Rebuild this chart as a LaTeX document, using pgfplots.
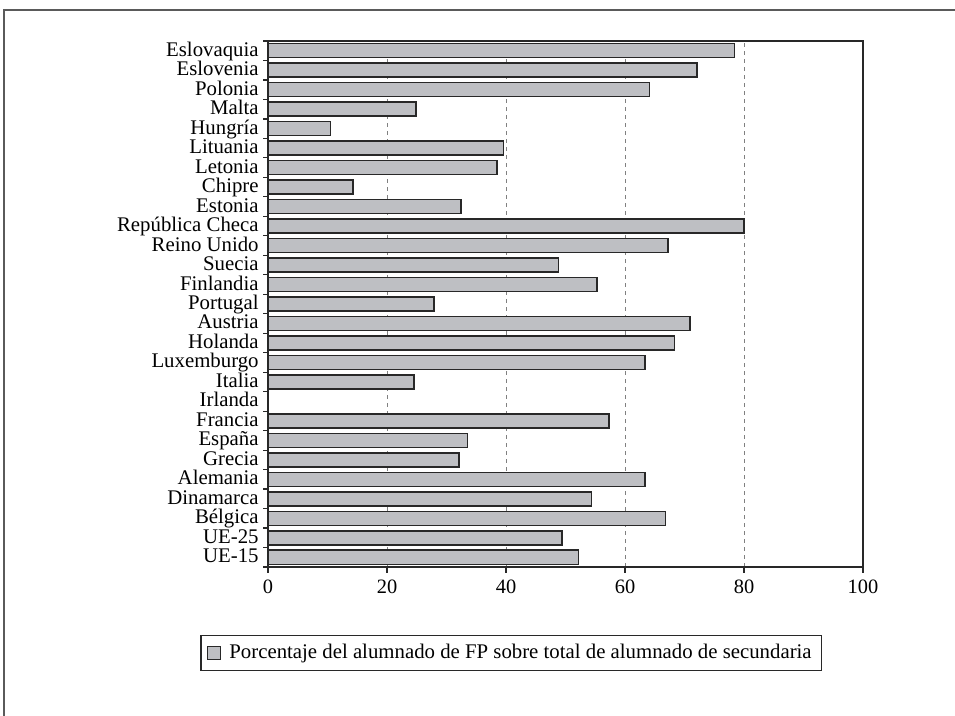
\documentclass[border=0pt]{standalone}
\usepackage{fontspec}
\setmainfont{Liberation Serif}
\usepackage{pgfplots}
\pgfplotsset{compat=1.18}
\definecolor{bargray}{RGB}{190,191,195}
\definecolor{edge}{RGB}{40,40,40}
\definecolor{framegray}{RGB}{90,90,90}
\begin{document}
\begin{tikzpicture}
\path[use as bounding box] (0,0) rectangle (477.5bp,358bp);
\draw[line width=0.8bp, framegray] (2bp,-2bp) -- (2bp,353bp) -- (480bp,353bp);
\begin{axis}[
  at={(134bp,74.5bp)}, anchor=south west,
  scale only axis, width=297.5bp, height=263bp,
  xbar, bar width=0.72, bar shift=0pt,
  xmin=0, xmax=100, ymin=-0.5, ymax=26.5,
  xtick={0,20,40,60,80,100},
  ytick={0,...,26},
  minor ytick={-0.5,0.5,...,26.5},
  yticklabels={UE-15,UE-25,Bélgica,Dinamarca,Alemania,Grecia,España,Francia,Irlanda,Italia,Luxemburgo,Holanda,Austria,Portugal,Finlandia,Suecia,Reino Unido,República Checa,Estonia,Chipre,Letonia,Lituania,Hungría,Malta,Polonia,Eslovenia,Eslovaquia},
  xtick pos=bottom, ytick pos=left,
  tick align=outside,
  major tick length=3bp, minor tick length=2.5bp,
  every major y tick/.style={draw=none},
  every minor y tick/.style={edge, line width=0.6bp},
  every major x tick/.style={edge, line width=0.6bp},
  xmajorgrids,
  grid style={dash pattern=on 2bp off 2bp, line width=0.5bp, gray},
  axis line style={line width=0.75bp, edge},
  /pgf/number format/assume math mode=true,
  xticklabel style={font=\fontsize{10.2bp}{11bp}\selectfont},
  yticklabel style={font=\fontsize{10.4bp}{11bp}\selectfont, inner xsep=1.5bp,
    inner ysep=0pt, text height=7bp, text depth=1.5bp},
  legend style={at={(0.409,-0.1635)}, anchor=center, draw=edge, line width=0.6bp,
    font=\fontsize{10.4bp}{12bp}\selectfont, inner xsep=3bp, inner ysep=2.5bp},
  legend image code/.code={\draw[#1, line width=0.6bp] (0bp,-3.2bp) rectangle (6.5bp,3.2bp); \path (8.5bp,0bp);},
]
\addplot[fill=bargray, draw=edge, line width=0.75bp] coordinates {
  (52.2,0) (49.4,1) (66.8,2) (54.4,3) (63.4,4) (32.1,5) (33.5,6) (57.3,7)
  (24.5,9) (63.4,10) (68.3,11) (70.9,12) (27.9,13) (55.3,14) (48.8,15)
  (67.2,16) (80.0,17) (32.4,18) (14.3,19) (38.5,20) (39.6,21) (10.5,22)
  (24.9,23) (64.1,24) (72.1,25) (78.4,26)
};
\addlegendentry{Porcentaje del alumnado de FP sobre total de alumnado de secundaria}
\end{axis}
\end{tikzpicture}
\end{document}
